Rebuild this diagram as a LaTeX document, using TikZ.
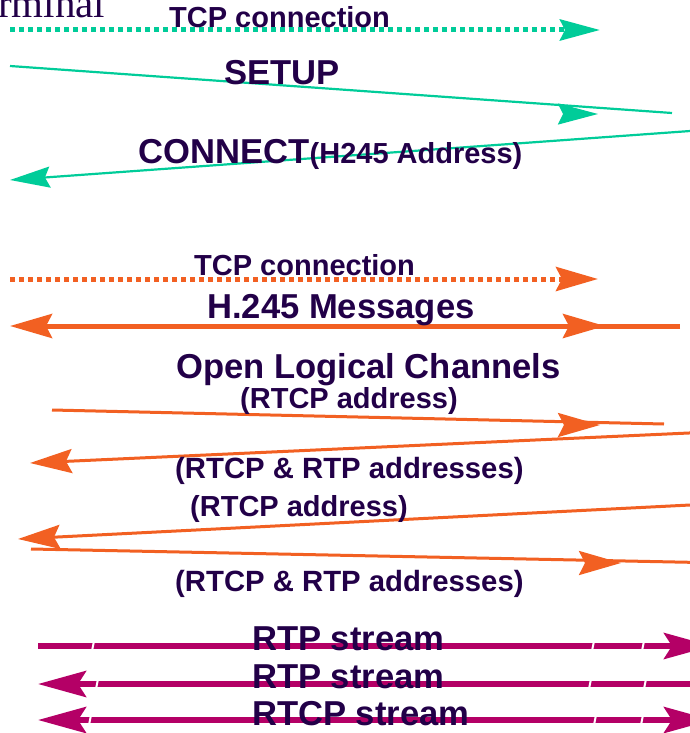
\documentclass[tikz,border=0pt]{standalone}
\usepackage{fontspec}
\setmainfont{Liberation Sans}
\newfontfamily\termfont{Liberation Serif}
\usetikzlibrary{arrows.meta}
\definecolor{sigGreen}{RGB}{0,204,153}
\definecolor{ctlOrange}{RGB}{242,96,34}
\definecolor{medMagenta}{RGB}{180,0,102}
\definecolor{txtPurple}{RGB}{34,0,72}
\tikzset{
  gtip/.tip={Stealth[length=40pt,width=21pt,inset=5pt]},
  otip/.tip={Stealth[length=42pt,width=24pt,inset=6pt]},
  mtip/.tip={Stealth[length=48pt,width=26pt,inset=8pt]},
  lbl/.style={text=txtPurple, inner sep=0pt, anchor=base west},
  smallmsg/.style={lbl, font=\fontsize{29}{29}\bfseries\selectfont},
  bigmsg/.style={lbl, font=\fontsize{34.6}{34.6}\bfseries\selectfont},
  dots/.style={line width=5pt, dash pattern=on 5pt off 4pt}
}
\begin{document}
\begin{tikzpicture}[x=1pt,y=-1pt]
    \useasboundingbox (0,0) rectangle (690,733);
    \clip (0,0) rectangle (690,733);
    \node[lbl, font=\fontsize{41}{41}\termfont\selectfont] (term) at (-42.5,17.5) {Terminal};
    % call signalling
    \coordinate (gT1) at (10,30);   \coordinate (gT2) at (600,30);
    \coordinate (sA) at (10,66);    \coordinate (sB) at (672,113);
    \coordinate (sH1) at (570,114); \coordinate (sH2) at (598,114);
    \coordinate (cA) at (700,130.3); \coordinate (cB) at (10,180);
    \draw[sigGreen, dots, -gtip] (gT1) -- (gT2);
    \draw[sigGreen, line width=2.2pt] (sA) -- (sB);
    \draw[sigGreen, line width=2.2pt, -gtip] (sH1) -- (sH2);
    \draw[sigGreen, line width=2.2pt, -gtip] (cA) -- (cB);
    \node[smallmsg] (tcpA) at (169,28) {TCP connection};
    \node[bigmsg] (setup) at (224,85) {SETUP};
    \node[bigmsg] (conn) at (138,163) {CONNECT};
    \node[smallmsg, anchor=base west] (h245adr) at (conn.base east) {(H245 Address)};
    % control channel
    \coordinate (oT1) at (10,279);  \coordinate (oT2) at (598,279);
    \coordinate (hA) at (10,326);   \coordinate (hB) at (680,326);
    \coordinate (hH1) at (575,326); \coordinate (hH2) at (605,326);
    \draw[ctlOrange, dots, -otip] (oT1) -- (oT2);
    \draw[ctlOrange, line width=5pt, -otip] (hB) -- (hA);
    \draw[ctlOrange, line width=5pt, -otip] (hH1) -- (hH2);
    \node[smallmsg] (tcpB) at (194,275) {TCP connection};
    \node[bigmsg] (h245) at (207,318) {H.245 Messages};
    \node[bigmsg] (olc) at (176,378) {Open Logical Channels};
    % logical channels
    \coordinate (lA) at (52,410);   \coordinate (lB) at (664,424);
    \coordinate (lH1) at (572,425); \coordinate (lH2) at (600,425);
    \coordinate (lC) at (700,432.5); \coordinate (lD) at (30,463);
    \coordinate (lE) at (700,504.5); \coordinate (lF) at (18,539);
    \coordinate (lG) at (31,549);   \coordinate (lK) at (700,562.5);
    \coordinate (lH3) at (593,563); \coordinate (lH4) at (621,563);
    \draw[ctlOrange, line width=3pt] (lA) -- (lB);
    \draw[ctlOrange, line width=3pt, -otip] (lH1) -- (lH2);
    \draw[ctlOrange, line width=3pt, -otip] (lC) -- (lD);
    \draw[ctlOrange, line width=3pt, -otip] (lE) -- (lF);
    \draw[ctlOrange, line width=3pt] (lG) -- (lK);
    \draw[ctlOrange, line width=3pt, -otip] (lH3) -- (lH4);
    \node[smallmsg] (rtcpA) at (240,408) {(RTCP address)};
    \node[smallmsg, font=\fontsize{29.3}{29.3}\bfseries\selectfont] (bothA) at (175,478) {(RTCP \& RTP addresses)};
    \node[smallmsg] (rtcpB) at (190,516) {(RTCP address)};
    \node[smallmsg, font=\fontsize{29.3}{29.3}\bfseries\selectfont] (bothB) at (175,591) {(RTCP \& RTP addresses)};
    % media streams
    \coordinate (mA) at (38,646);  \coordinate (mB) at (712,646);
    \coordinate (mC) at (38,684);  \coordinate (mD) at (700,684);
    \coordinate (mE) at (38,720);  \coordinate (mF) at (712,720);
    \draw[medMagenta, line width=6pt, -mtip] (mA) -- (mB);
    \draw[medMagenta, line width=6pt, -mtip] (mD) -- (mC);
    \draw[medMagenta, line width=6pt, mtip-mtip] (mE) -- (mF);
    \foreach \gx/\gy in {93/646,593/646,643/646,97/684,590/684,645/684,90/720,595/720,642/720}
    {
    \draw[white, line width=2pt] (\gx+1,\gy-5) -- (\gx-1,\gy+5);
    }
    \node[bigmsg] (rtpA) at (252,650) {RTP stream};
    \node[bigmsg] (rtpB) at (252,688) {RTP stream};
    \node[bigmsg] (rtcpS) at (252,725) {RTCP stream};
\end{tikzpicture}
\end{document}
